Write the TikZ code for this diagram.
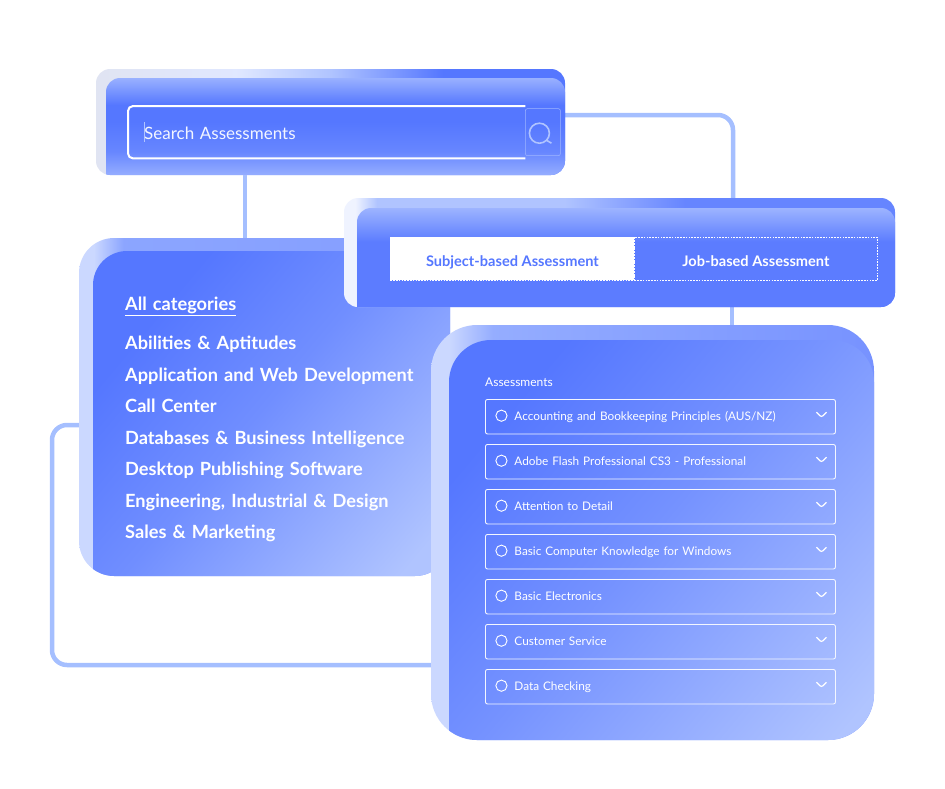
\documentclass[tikz,border=0pt]{standalone}
\usepackage{fontspec}
\setmainfont{Lato}
\usetikzlibrary{positioning, backgrounds}
\definecolor{mainblue}{HTML}{5577FF}
\definecolor{softblue}{HTML}{B0C4FF}
\definecolor{linkblue}{HTML}{A5BFFF}
\definecolor{paleblue}{HTML}{CBD8FF}
\pgfdeclareverticalshading{srchfront}{100bp}{color(0bp)=(softblue!70!mainblue); color(25bp)=(softblue!70!mainblue); color(36bp)=(softblue!20!mainblue); color(50bp)=(mainblue); color(58bp)=(mainblue); color(75bp)=(softblue); color(100bp)=(softblue)}
\pgfdeclareverticalshading{tabsfront}{100bp}{color(0bp)=(mainblue!96!white); color(55bp)=(mainblue!96!white); color(75bp)=(softblue); color(100bp)=(softblue)}
\pgfdeclarehorizontalshading{srchback}{100bp}{color(0bp)=(paleblue!40!white!90!gray); color(25bp)=(paleblue!40!white!90!gray); color(40bp)=(paleblue!60!white); color(50bp)=(softblue); color(62bp)=(mainblue); color(100bp)=(mainblue)}
\pgfdeclarehorizontalshading{tabsback}{100bp}{color(0bp)=(paleblue!30!white); color(26bp)=(paleblue!30!white); color(28bp)=(softblue); color(45bp)=(softblue); color(56bp)=(mainblue!90!white); color(100bp)=(mainblue!90!white)}
\pgfdeclarehorizontalshading{catsback}{100bp}{color(0bp)=(paleblue); color(27bp)=(paleblue); color(31bp)=(softblue!60!mainblue); color(100bp)=(mainblue!75!white)}
\pgfdeclarehorizontalshading{assessback}{100bp}{color(0bp)=(paleblue); color(27bp)=(paleblue); color(32bp)=(softblue!70!mainblue); color(75bp)=(mainblue!80!white); color(100bp)=(mainblue!80!white)}
\pgfdeclarehorizontalshading{catsfront}{100bp}{color(0bp)=(mainblue); color(30bp)=(mainblue); color(50bp)=(softblue!30!mainblue); color(80bp)=(softblue); color(100bp)=(softblue)}
\pgfdeclarehorizontalshading{assessfront}{100bp}{color(0bp)=(mainblue); color(28bp)=(mainblue); color(50bp)=(softblue!35!mainblue); color(82bp)=(softblue); color(100bp)=(softblue)}
\tikzset{
  cardbox/.style n args={7}{anchor=north west, inner sep=0pt, outer sep=0pt, rounded corners=#6,
    shade, shading=#1,
    path picture={\shade[shading=#2, shading angle=#3]
      ([xshift=#4]path picture bounding box.south west) [rounded corners=#7]
      |- ([yshift=-#5]path picture bounding box.north east) [sharp corners]
      -- (path picture bounding box.south east) -- cycle;}},
  link/.style={draw=linkblue, line width=4.5pt, rounded corners=15pt},
  tabbox/.style={draw=white, line width=0.8pt, dash pattern=on 1.6pt off 1.2pt, inner sep=0pt,
    minimum height=43pt, text height=18pt, text depth=3pt, font=\fontsize{14.6}{15}\selectfont\bfseries},
  catitem/.style={text=white, inner sep=0pt, text width=310pt, align=left, text height=17pt, text depth=4pt,
    font=\fontsize{18.2}{20}\selectfont\bfseries},
  rowbox/.style={draw=white!85!softblue, line width=0.9pt, rounded corners=2pt, text=white, minimum width=350pt,
    minimum height=34.5pt, inner xsep=29pt, inner ysep=0pt, text width=292pt, align=left,
    text height=10.5pt, text depth=2.5pt, font=\fontsize{11.8}{13}\selectfont,
    path picture={
      \draw[white, line width=0.9pt] ([xshift=16pt,yshift=1pt]path picture bounding box.west) circle (5.6pt);
      \draw[white, line width=1.2pt] ([xshift=-19pt,yshift=4.5pt]path picture bounding box.east)
        -- ([xshift=-14pt,yshift=-0.5pt]path picture bounding box.east)
        -- ([xshift=-9pt,yshift=4.5pt]path picture bounding box.east);}},
}
\begin{document}
\begin{tikzpicture}[x=1pt,y=-1pt,node distance=45pt,on grid]
  \useasboundingbox (0,0) rectangle (945,788);

  % panels
  \node[cardbox={catsback}{catsfront}{-40}{14pt}{13pt}{35pt}{34pt}, minimum width=371pt, minimum height=338pt]
    (cats) at (79,238) {};
  \node[cardbox={srchback}{srchfront}{0}{10pt}{9pt}{14pt}{14pt}, minimum width=469pt, minimum height=106pt]
    (srch) at (96,69) {};
  \node[cardbox={tabsback}{tabsfront}{0}{13pt}{10pt}{14pt}{14pt}, minimum width=551pt, minimum height=109pt]
    (tabs) at (344,198) {};
  \node[cardbox={assessback}{assessfront}{-40}{18pt}{15pt}{46pt}{42pt}, minimum width=443pt, minimum height=415pt]
    (assess) at (431,325) {};

  % search field
  \node[anchor=north west, inner sep=0pt, minimum width=397pt, minimum height=52pt, text width=365pt,
    inner xsep=16pt, align=left, text=white!85!softblue, text height=17pt, text depth=3pt, font=\fontsize{17}{18}\selectfont]
    (field) at (128,106) {Search Assessments};
  \draw[white, line width=2pt, rounded corners=5pt] (field.north east) -- (field.north west)
    -- (field.south west) -- (field.south east);
  \draw[softblue, line width=0.8pt] ([xshift=16pt,yshift=10pt]field.west) -- ([xshift=16pt,yshift=-10pt]field.west);
  \node[draw=softblue!80!mainblue, line width=0.5pt, rounded corners=2pt, inner sep=0pt, minimum width=35pt, minimum height=47pt,
    right=17.5pt of field.east, anchor=center,
    path picture={
      \draw[softblue, line width=1.6pt] ([xshift=-3.5pt,yshift=-1pt]path picture bounding box.center) circle (10pt);
      \draw[softblue, line width=1.6pt] ([xshift=3.5pt,yshift=-8pt]path picture bounding box.center)
        -- ([xshift=8.5pt,yshift=-11pt]path picture bounding box.center);}]
    (lens) {};

  % tabs
  \node[tabbox, fill=white, text=mainblue, minimum width=244pt, anchor=north west] (subj) at (390,237) {Subject-based Assessment};
  \node[tabbox, text=white, minimum width=243pt] (job) [right=243.5pt of subj] {Job-based Assessment};

  % categories
  \node[catitem, anchor=west] (allcat) at (125,304) {\underline{All categories}};
  \node[catitem] (abil) [below=39pt of allcat] {Abilities \& Aptitudes};
  \node[catitem] (appl) [below=31.5pt of abil] {Application and Web Development};
  \node[catitem] (call) [below=31.5pt of appl] {Call Center};
  \node[catitem] (dbase) [below=31.5pt of call] {Databases \& Business Intelligence};
  \node[catitem] (desk) [below=31.5pt of dbase] {Desktop Publishing Software};
  \node[catitem] (engi) [below=31.5pt of desk] {Engineering, Industrial \& Design};
  \node[catitem] (sales) [below=31.5pt of engi] {Sales \& Marketing};

  % assessments
  \node[anchor=west, inner sep=0pt, text=white, font=\fontsize{12}{13}\selectfont] (head) at (485,382) {Assessments};
  \node[rowbox, anchor=north west] (row_1) at (485,399) {Accounting and Bookkeeping Principles (AUS/NZ)};
  \node[rowbox] (row_2) [below=of row_1] {Adobe Flash Professional CS3 - Professional};
  \node[rowbox] (row_3) [below=of row_2] {Attention to Detail};
  \node[rowbox] (row_4) [below=of row_3] {Basic Computer Knowledge for Windows};
  \node[rowbox] (row_5) [below=of row_4] {Basic Electronics};
  \node[rowbox] (row_6) [below=of row_5] {Customer Service};
  \node[rowbox] (row_7) [below=of row_6] {Data Checking};

  % connectors
  \coordinate (bend_t) at (52,425);
  \coordinate (bend_b) at (52,665);
  \begin{scope}[on background layer]
    \draw[link] ([xshift=-85.5pt]srch.south) -- ([xshift=-85.5pt]srch.south |- cats.north);
    \draw[link] ([yshift=7pt]srch.east) -| ([xshift=113.5pt]tabs.north);
    \draw[link] ([xshift=112.5pt]tabs.south) -- ([xshift=112.5pt]tabs.south |- assess.north);
    \draw[link] ([yshift=-18pt]cats.west) -- (bend_t) -- (bend_b) -- (bend_b -| assess.west);
  \end{scope}
\end{tikzpicture}
\end{document}
